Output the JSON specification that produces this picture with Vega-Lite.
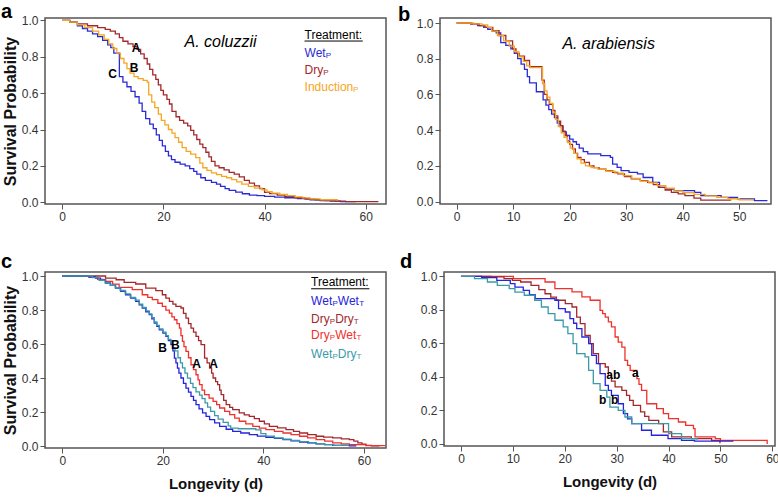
{
  "$schema": "https://vega.github.io/schema/vega-lite/v6.json",
  "background": "white",
  "padding": {"left": 0, "top": 1, "right": 0, "bottom": 0},
  "spacing": 28,
  "config": {
    "view": {"stroke": "#555", "strokeWidth": 1.5},
    "font": "Liberation Sans",
    "axis": {"grid": false, "domain": false, "ticks": true, "tickColor": "#555", "tickSize": 5, "tickWidth": 1, "labelFont": "Liberation Sans", "labelFontSize": 12, "labelColor": "#333", "labelPadding": 2, "labelFlush": false, "labelOverlap": false, "titleFont": "Liberation Sans", "titleFontWeight": "bold", "titleColor": "#111"},
    "axisX": {"titleFontSize": 15, "titlePadding": 10},
    "axisY": {"titleFontSize": 16, "titlePadding": 3},
    "title": {"font": "Liberation Sans", "fontSize": 20, "fontWeight": "bold", "color": "#000", "anchor": "start", "frame": "group", "baseline": "alphabetic"}
  },
  "datasets": {
    "curves": [
      {"p":"a","g":"Wet_P","t":0,"s":1},{"p":"a","g":"Wet_P","t":1.5,"s":0.99},{"p":"a","g":"Wet_P","t":3,"s":0.97},{"p":"a","g":"Wet_P","t":4,"s":0.955},{"p":"a","g":"Wet_P","t":5,"s":0.94},{"p":"a","g":"Wet_P","t":6,"s":0.925},{"p":"a","g":"Wet_P","t":7,"s":0.91},{"p":"a","g":"Wet_P","t":8,"s":0.89},{"p":"a","g":"Wet_P","t":9,"s":0.865},{"p":"a","g":"Wet_P","t":9.6,"s":0.85},{"p":"a","g":"Wet_P","t":10.2,"s":0.82},{"p":"a","g":"Wet_P","t":11.3,"s":0.69},{"p":"a","g":"Wet_P","t":12,"s":0.66},{"p":"a","g":"Wet_P","t":12.8,"s":0.635},{"p":"a","g":"Wet_P","t":13.6,"s":0.61},{"p":"a","g":"Wet_P","t":14.4,"s":0.58},{"p":"a","g":"Wet_P","t":15.2,"s":0.545},{"p":"a","g":"Wet_P","t":15.8,"s":0.5},{"p":"a","g":"Wet_P","t":16.5,"s":0.46},{"p":"a","g":"Wet_P","t":17.3,"s":0.43},{"p":"a","g":"Wet_P","t":18,"s":0.405},{"p":"a","g":"Wet_P","t":18.6,"s":0.37},{"p":"a","g":"Wet_P","t":19.2,"s":0.34},{"p":"a","g":"Wet_P","t":19.8,"s":0.31},{"p":"a","g":"Wet_P","t":20.4,"s":0.28},{"p":"a","g":"Wet_P","t":21,"s":0.255},{"p":"a","g":"Wet_P","t":21.6,"s":0.235},{"p":"a","g":"Wet_P","t":22.3,"s":0.22},{"p":"a","g":"Wet_P","t":23.3,"s":0.21},{"p":"a","g":"Wet_P","t":24.3,"s":0.2},{"p":"a","g":"Wet_P","t":25.2,"s":0.185},{"p":"a","g":"Wet_P","t":26,"s":0.17},{"p":"a","g":"Wet_P","t":26.6,"s":0.155},{"p":"a","g":"Wet_P","t":27.4,"s":0.135},{"p":"a","g":"Wet_P","t":28.3,"s":0.12},{"p":"a","g":"Wet_P","t":29.5,"s":0.11},{"p":"a","g":"Wet_P","t":30.5,"s":0.1},{"p":"a","g":"Wet_P","t":31.3,"s":0.088},{"p":"a","g":"Wet_P","t":32.2,"s":0.075},{"p":"a","g":"Wet_P","t":33,"s":0.066},{"p":"a","g":"Wet_P","t":34.3,"s":0.056},{"p":"a","g":"Wet_P","t":35.6,"s":0.047},{"p":"a","g":"Wet_P","t":37,"s":0.04},{"p":"a","g":"Wet_P","t":38.5,"s":0.037},{"p":"a","g":"Wet_P","t":40,"s":0.033},{"p":"a","g":"Wet_P","t":42,"s":0.028},{"p":"a","g":"Wet_P","t":44,"s":0.025},{"p":"a","g":"Wet_P","t":46.5,"s":0.02},{"p":"a","g":"Wet_P","t":49,"s":0.014},{"p":"a","g":"Wet_P","t":51,"s":0.009},{"p":"a","g":"Wet_P","t":53,"s":0.006},{"p":"a","g":"Wet_P","t":55,"s":0.004},{"p":"a","g":"Wet_P","t":58,"s":0.004},
      {"p":"a","g":"Dry_P","t":0,"s":1},{"p":"a","g":"Dry_P","t":1.5,"s":0.99},{"p":"a","g":"Dry_P","t":3,"s":0.98},{"p":"a","g":"Dry_P","t":5,"s":0.97},{"p":"a","g":"Dry_P","t":7,"s":0.96},{"p":"a","g":"Dry_P","t":8.5,"s":0.95},{"p":"a","g":"Dry_P","t":9.5,"s":0.94},{"p":"a","g":"Dry_P","t":10.5,"s":0.925},{"p":"a","g":"Dry_P","t":11.3,"s":0.905},{"p":"a","g":"Dry_P","t":12,"s":0.885},{"p":"a","g":"Dry_P","t":13,"s":0.87},{"p":"a","g":"Dry_P","t":14,"s":0.855},{"p":"a","g":"Dry_P","t":14.8,"s":0.84},{"p":"a","g":"Dry_P","t":15.5,"s":0.815},{"p":"a","g":"Dry_P","t":16.2,"s":0.79},{"p":"a","g":"Dry_P","t":16.8,"s":0.76},{"p":"a","g":"Dry_P","t":17.3,"s":0.73},{"p":"a","g":"Dry_P","t":17.9,"s":0.7},{"p":"a","g":"Dry_P","t":18.5,"s":0.675},{"p":"a","g":"Dry_P","t":19,"s":0.645},{"p":"a","g":"Dry_P","t":19.5,"s":0.615},{"p":"a","g":"Dry_P","t":20,"s":0.59},{"p":"a","g":"Dry_P","t":20.7,"s":0.565},{"p":"a","g":"Dry_P","t":21.2,"s":0.54},{"p":"a","g":"Dry_P","t":21.7,"s":0.5},{"p":"a","g":"Dry_P","t":22.5,"s":0.47},{"p":"a","g":"Dry_P","t":23.2,"s":0.45},{"p":"a","g":"Dry_P","t":24,"s":0.435},{"p":"a","g":"Dry_P","t":24.8,"s":0.42},{"p":"a","g":"Dry_P","t":25.4,"s":0.395},{"p":"a","g":"Dry_P","t":26,"s":0.37},{"p":"a","g":"Dry_P","t":26.6,"s":0.345},{"p":"a","g":"Dry_P","t":27.2,"s":0.32},{"p":"a","g":"Dry_P","t":27.8,"s":0.3},{"p":"a","g":"Dry_P","t":28.4,"s":0.275},{"p":"a","g":"Dry_P","t":29,"s":0.25},{"p":"a","g":"Dry_P","t":29.5,"s":0.225},{"p":"a","g":"Dry_P","t":30.2,"s":0.2},{"p":"a","g":"Dry_P","t":31,"s":0.19},{"p":"a","g":"Dry_P","t":32,"s":0.178},{"p":"a","g":"Dry_P","t":33,"s":0.165},{"p":"a","g":"Dry_P","t":34,"s":0.155},{"p":"a","g":"Dry_P","t":35,"s":0.14},{"p":"a","g":"Dry_P","t":36,"s":0.12},{"p":"a","g":"Dry_P","t":37,"s":0.105},{"p":"a","g":"Dry_P","t":38,"s":0.09},{"p":"a","g":"Dry_P","t":39,"s":0.075},{"p":"a","g":"Dry_P","t":40,"s":0.055},{"p":"a","g":"Dry_P","t":41,"s":0.048},{"p":"a","g":"Dry_P","t":42.5,"s":0.04},{"p":"a","g":"Dry_P","t":44,"s":0.033},{"p":"a","g":"Dry_P","t":46,"s":0.025},{"p":"a","g":"Dry_P","t":48,"s":0.018},{"p":"a","g":"Dry_P","t":50,"s":0.013},{"p":"a","g":"Dry_P","t":52,"s":0.009},{"p":"a","g":"Dry_P","t":54,"s":0.006},{"p":"a","g":"Dry_P","t":56,"s":0.004},{"p":"a","g":"Dry_P","t":62.5,"s":0.004},
      {"p":"a","g":"Induction_P","t":0,"s":1},{"p":"a","g":"Induction_P","t":1.5,"s":0.99},{"p":"a","g":"Induction_P","t":3,"s":0.975},{"p":"a","g":"Induction_P","t":4.5,"s":0.96},{"p":"a","g":"Induction_P","t":6,"s":0.94},{"p":"a","g":"Induction_P","t":7.2,"s":0.92},{"p":"a","g":"Induction_P","t":8.3,"s":0.895},{"p":"a","g":"Induction_P","t":9.2,"s":0.87},{"p":"a","g":"Induction_P","t":10,"s":0.845},{"p":"a","g":"Induction_P","t":10.8,"s":0.82},{"p":"a","g":"Induction_P","t":11.5,"s":0.79},{"p":"a","g":"Induction_P","t":12.2,"s":0.765},{"p":"a","g":"Induction_P","t":12.8,"s":0.735},{"p":"a","g":"Induction_P","t":13.4,"s":0.71},{"p":"a","g":"Induction_P","t":14.2,"s":0.69},{"p":"a","g":"Induction_P","t":15,"s":0.68},{"p":"a","g":"Induction_P","t":16,"s":0.67},{"p":"a","g":"Induction_P","t":16.8,"s":0.66},{"p":"a","g":"Induction_P","t":17.1,"s":0.59},{"p":"a","g":"Induction_P","t":17.7,"s":0.55},{"p":"a","g":"Induction_P","t":18.3,"s":0.52},{"p":"a","g":"Induction_P","t":19,"s":0.485},{"p":"a","g":"Induction_P","t":19.6,"s":0.45},{"p":"a","g":"Induction_P","t":20.3,"s":0.425},{"p":"a","g":"Induction_P","t":21,"s":0.4},{"p":"a","g":"Induction_P","t":21.7,"s":0.38},{"p":"a","g":"Induction_P","t":22.3,"s":0.355},{"p":"a","g":"Induction_P","t":23,"s":0.33},{"p":"a","g":"Induction_P","t":23.7,"s":0.3},{"p":"a","g":"Induction_P","t":24.5,"s":0.28},{"p":"a","g":"Induction_P","t":25.4,"s":0.265},{"p":"a","g":"Induction_P","t":26.4,"s":0.245},{"p":"a","g":"Induction_P","t":27.2,"s":0.215},{"p":"a","g":"Induction_P","t":27.8,"s":0.19},{"p":"a","g":"Induction_P","t":28.6,"s":0.175},{"p":"a","g":"Induction_P","t":29.5,"s":0.162},{"p":"a","g":"Induction_P","t":30.5,"s":0.152},{"p":"a","g":"Induction_P","t":31.5,"s":0.143},{"p":"a","g":"Induction_P","t":32.5,"s":0.135},{"p":"a","g":"Induction_P","t":33.5,"s":0.125},{"p":"a","g":"Induction_P","t":34.5,"s":0.112},{"p":"a","g":"Induction_P","t":35.5,"s":0.1},{"p":"a","g":"Induction_P","t":36.8,"s":0.088},{"p":"a","g":"Induction_P","t":38,"s":0.078},{"p":"a","g":"Induction_P","t":39.5,"s":0.068},{"p":"a","g":"Induction_P","t":40.5,"s":0.058},{"p":"a","g":"Induction_P","t":41.5,"s":0.05},{"p":"a","g":"Induction_P","t":43,"s":0.043},{"p":"a","g":"Induction_P","t":44.5,"s":0.037},{"p":"a","g":"Induction_P","t":46,"s":0.03},{"p":"a","g":"Induction_P","t":47.5,"s":0.024},{"p":"a","g":"Induction_P","t":49,"s":0.019},{"p":"a","g":"Induction_P","t":51,"s":0.014},{"p":"a","g":"Induction_P","t":54.4,"s":0.01},
      {"p":"b","g":"Wet_P","t":0,"s":1},{"p":"b","g":"Wet_P","t":2.5,"s":0.995},{"p":"b","g":"Wet_P","t":3.7,"s":0.985},{"p":"b","g":"Wet_P","t":4.8,"s":0.975},{"p":"b","g":"Wet_P","t":5.5,"s":0.965},{"p":"b","g":"Wet_P","t":6.3,"s":0.955},{"p":"b","g":"Wet_P","t":7,"s":0.945},{"p":"b","g":"Wet_P","t":7.8,"s":0.89},{"p":"b","g":"Wet_P","t":8.7,"s":0.875},{"p":"b","g":"Wet_P","t":9.6,"s":0.855},{"p":"b","g":"Wet_P","t":10.2,"s":0.83},{"p":"b","g":"Wet_P","t":10.8,"s":0.8},{"p":"b","g":"Wet_P","t":11.4,"s":0.77},{"p":"b","g":"Wet_P","t":12,"s":0.74},{"p":"b","g":"Wet_P","t":12.5,"s":0.7},{"p":"b","g":"Wet_P","t":12.9,"s":0.665},{"p":"b","g":"Wet_P","t":14.1,"s":0.615},{"p":"b","g":"Wet_P","t":15.3,"s":0.57},{"p":"b","g":"Wet_P","t":15.8,"s":0.54},{"p":"b","g":"Wet_P","t":16.3,"s":0.515},{"p":"b","g":"Wet_P","t":16.8,"s":0.49},{"p":"b","g":"Wet_P","t":17.3,"s":0.47},{"p":"b","g":"Wet_P","t":17.8,"s":0.44},{"p":"b","g":"Wet_P","t":18.3,"s":0.42},{"p":"b","g":"Wet_P","t":18.8,"s":0.39},{"p":"b","g":"Wet_P","t":19.4,"s":0.37},{"p":"b","g":"Wet_P","t":20,"s":0.35},{"p":"b","g":"Wet_P","t":20.6,"s":0.335},{"p":"b","g":"Wet_P","t":21.2,"s":0.32},{"p":"b","g":"Wet_P","t":21.7,"s":0.3},{"p":"b","g":"Wet_P","t":22.4,"s":0.28},{"p":"b","g":"Wet_P","t":23.2,"s":0.267},{"p":"b","g":"Wet_P","t":25.5,"s":0.258},{"p":"b","g":"Wet_P","t":27.2,"s":0.248},{"p":"b","g":"Wet_P","t":27.6,"s":0.21},{"p":"b","g":"Wet_P","t":28.4,"s":0.192},{"p":"b","g":"Wet_P","t":29.1,"s":0.173},{"p":"b","g":"Wet_P","t":30.5,"s":0.164},{"p":"b","g":"Wet_P","t":32,"s":0.155},{"p":"b","g":"Wet_P","t":33,"s":0.135},{"p":"b","g":"Wet_P","t":34.7,"s":0.108},{"p":"b","g":"Wet_P","t":35.9,"s":0.08},{"p":"b","g":"Wet_P","t":37,"s":0.07},{"p":"b","g":"Wet_P","t":38.5,"s":0.062},{"p":"b","g":"Wet_P","t":42.1,"s":0.052},{"p":"b","g":"Wet_P","t":43.2,"s":0.034},{"p":"b","g":"Wet_P","t":46.8,"s":0.024},{"p":"b","g":"Wet_P","t":49.7,"s":0.015},{"p":"b","g":"Wet_P","t":52.7,"s":0.006},{"p":"b","g":"Wet_P","t":55,"s":0.006},
      {"p":"b","g":"Dry_P","t":0,"s":1},{"p":"b","g":"Dry_P","t":2.5,"s":0.995},{"p":"b","g":"Dry_P","t":4,"s":0.985},{"p":"b","g":"Dry_P","t":5,"s":0.975},{"p":"b","g":"Dry_P","t":6.4,"s":0.957},{"p":"b","g":"Dry_P","t":7.5,"s":0.93},{"p":"b","g":"Dry_P","t":8.7,"s":0.9},{"p":"b","g":"Dry_P","t":9.9,"s":0.855},{"p":"b","g":"Dry_P","t":10.5,"s":0.83},{"p":"b","g":"Dry_P","t":11.1,"s":0.815},{"p":"b","g":"Dry_P","t":12,"s":0.79},{"p":"b","g":"Dry_P","t":12.9,"s":0.755},{"p":"b","g":"Dry_P","t":15.1,"s":0.68},{"p":"b","g":"Dry_P","t":15.5,"s":0.6},{"p":"b","g":"Dry_P","t":16,"s":0.57},{"p":"b","g":"Dry_P","t":16.4,"s":0.545},{"p":"b","g":"Dry_P","t":17,"s":0.51},{"p":"b","g":"Dry_P","t":17.4,"s":0.48},{"p":"b","g":"Dry_P","t":17.9,"s":0.45},{"p":"b","g":"Dry_P","t":18.4,"s":0.425},{"p":"b","g":"Dry_P","t":18.8,"s":0.395},{"p":"b","g":"Dry_P","t":19.2,"s":0.37},{"p":"b","g":"Dry_P","t":19.6,"s":0.34},{"p":"b","g":"Dry_P","t":20,"s":0.32},{"p":"b","g":"Dry_P","t":20.5,"s":0.295},{"p":"b","g":"Dry_P","t":21,"s":0.27},{"p":"b","g":"Dry_P","t":21.4,"s":0.248},{"p":"b","g":"Dry_P","t":22,"s":0.235},{"p":"b","g":"Dry_P","t":22.6,"s":0.22},{"p":"b","g":"Dry_P","t":23.5,"s":0.2},{"p":"b","g":"Dry_P","t":24.3,"s":0.19},{"p":"b","g":"Dry_P","t":25.2,"s":0.182},{"p":"b","g":"Dry_P","t":26.4,"s":0.173},{"p":"b","g":"Dry_P","t":27.6,"s":0.164},{"p":"b","g":"Dry_P","t":28.5,"s":0.155},{"p":"b","g":"Dry_P","t":29.7,"s":0.14},{"p":"b","g":"Dry_P","t":30.9,"s":0.127},{"p":"b","g":"Dry_P","t":32.5,"s":0.117},{"p":"b","g":"Dry_P","t":33.8,"s":0.108},{"p":"b","g":"Dry_P","t":34.8,"s":0.095},{"p":"b","g":"Dry_P","t":35.7,"s":0.08},{"p":"b","g":"Dry_P","t":36.9,"s":0.065},{"p":"b","g":"Dry_P","t":38,"s":0.052},{"p":"b","g":"Dry_P","t":39.2,"s":0.043},{"p":"b","g":"Dry_P","t":40.4,"s":0.034},{"p":"b","g":"Dry_P","t":42,"s":0.02},{"p":"b","g":"Dry_P","t":43.2,"s":0.008},{"p":"b","g":"Dry_P","t":48.5,"s":0.006},
      {"p":"b","g":"Induction_P","t":0,"s":1},{"p":"b","g":"Induction_P","t":3,"s":0.995},{"p":"b","g":"Induction_P","t":4.5,"s":0.99},{"p":"b","g":"Induction_P","t":5.5,"s":0.975},{"p":"b","g":"Induction_P","t":6.2,"s":0.955},{"p":"b","g":"Induction_P","t":7.2,"s":0.93},{"p":"b","g":"Induction_P","t":8.3,"s":0.9},{"p":"b","g":"Induction_P","t":9.3,"s":0.87},{"p":"b","g":"Induction_P","t":10.2,"s":0.84},{"p":"b","g":"Induction_P","t":11,"s":0.81},{"p":"b","g":"Induction_P","t":11.8,"s":0.785},{"p":"b","g":"Induction_P","t":12.4,"s":0.76},{"p":"b","g":"Induction_P","t":13,"s":0.75},{"p":"b","g":"Induction_P","t":14.8,"s":0.75},{"p":"b","g":"Induction_P","t":15.2,"s":0.66},{"p":"b","g":"Induction_P","t":15.6,"s":0.62},{"p":"b","g":"Induction_P","t":16,"s":0.585},{"p":"b","g":"Induction_P","t":16.5,"s":0.55},{"p":"b","g":"Induction_P","t":17,"s":0.5},{"p":"b","g":"Induction_P","t":17.5,"s":0.46},{"p":"b","g":"Induction_P","t":18,"s":0.42},{"p":"b","g":"Induction_P","t":18.5,"s":0.385},{"p":"b","g":"Induction_P","t":19,"s":0.36},{"p":"b","g":"Induction_P","t":19.6,"s":0.33},{"p":"b","g":"Induction_P","t":20.1,"s":0.3},{"p":"b","g":"Induction_P","t":20.7,"s":0.27},{"p":"b","g":"Induction_P","t":21.3,"s":0.24},{"p":"b","g":"Induction_P","t":22,"s":0.215},{"p":"b","g":"Induction_P","t":22.8,"s":0.2},{"p":"b","g":"Induction_P","t":23.8,"s":0.19},{"p":"b","g":"Induction_P","t":25,"s":0.18},{"p":"b","g":"Induction_P","t":26.5,"s":0.17},{"p":"b","g":"Induction_P","t":28,"s":0.16},{"p":"b","g":"Induction_P","t":29.5,"s":0.145},{"p":"b","g":"Induction_P","t":31,"s":0.13},{"p":"b","g":"Induction_P","t":32.5,"s":0.115},{"p":"b","g":"Induction_P","t":34,"s":0.105},{"p":"b","g":"Induction_P","t":35.5,"s":0.09},{"p":"b","g":"Induction_P","t":37,"s":0.075},{"p":"b","g":"Induction_P","t":38.5,"s":0.06},{"p":"b","g":"Induction_P","t":40,"s":0.05},{"p":"b","g":"Induction_P","t":42,"s":0.04},{"p":"b","g":"Induction_P","t":44,"s":0.032},{"p":"b","g":"Induction_P","t":46,"s":0.024},{"p":"b","g":"Induction_P","t":48,"s":0.016},{"p":"b","g":"Induction_P","t":50,"s":0.01},{"p":"b","g":"Induction_P","t":52.5,"s":0.005},
      {"p":"c","g":"DryDry","t":0,"s":1},{"p":"c","g":"DryDry","t":7.3,"s":1},{"p":"c","g":"DryDry","t":8.6,"s":0.988},{"p":"c","g":"DryDry","t":10.7,"s":0.978},{"p":"c","g":"DryDry","t":12.3,"s":0.962},{"p":"c","g":"DryDry","t":14.6,"s":0.953},{"p":"c","g":"DryDry","t":16.6,"s":0.929},{"p":"c","g":"DryDry","t":18.6,"s":0.914},{"p":"c","g":"DryDry","t":19.9,"s":0.89},{"p":"c","g":"DryDry","t":20.6,"s":0.87},{"p":"c","g":"DryDry","t":21.3,"s":0.851},{"p":"c","g":"DryDry","t":22,"s":0.835},{"p":"c","g":"DryDry","t":22.6,"s":0.822},{"p":"c","g":"DryDry","t":23.6,"s":0.812},{"p":"c","g":"DryDry","t":24.1,"s":0.78},{"p":"c","g":"DryDry","t":24.6,"s":0.753},{"p":"c","g":"DryDry","t":25.1,"s":0.72},{"p":"c","g":"DryDry","t":25.6,"s":0.694},{"p":"c","g":"DryDry","t":26.1,"s":0.67},{"p":"c","g":"DryDry","t":26.6,"s":0.645},{"p":"c","g":"DryDry","t":27.1,"s":0.62},{"p":"c","g":"DryDry","t":27.6,"s":0.597},{"p":"c","g":"DryDry","t":28.3,"s":0.518},{"p":"c","g":"DryDry","t":28.8,"s":0.49},{"p":"c","g":"DryDry","t":29.3,"s":0.459},{"p":"c","g":"DryDry","t":29.7,"s":0.43},{"p":"c","g":"DryDry","t":30,"s":0.401},{"p":"c","g":"DryDry","t":30.5,"s":0.38},{"p":"c","g":"DryDry","t":30.9,"s":0.362},{"p":"c","g":"DryDry","t":31.3,"s":0.33},{"p":"c","g":"DryDry","t":31.6,"s":0.303},{"p":"c","g":"DryDry","t":32.1,"s":0.27},{"p":"c","g":"DryDry","t":32.6,"s":0.245},{"p":"c","g":"DryDry","t":33.3,"s":0.228},{"p":"c","g":"DryDry","t":33.9,"s":0.215},{"p":"c","g":"DryDry","t":35.2,"s":0.196},{"p":"c","g":"DryDry","t":36.2,"s":0.185},{"p":"c","g":"DryDry","t":37.2,"s":0.176},{"p":"c","g":"DryDry","t":38.2,"s":0.162},{"p":"c","g":"DryDry","t":39.2,"s":0.147},{"p":"c","g":"DryDry","t":40.2,"s":0.132},{"p":"c","g":"DryDry","t":41.2,"s":0.117},{"p":"c","g":"DryDry","t":42.8,"s":0.108},{"p":"c","g":"DryDry","t":44.5,"s":0.098},{"p":"c","g":"DryDry","t":46,"s":0.088},{"p":"c","g":"DryDry","t":47.2,"s":0.078},{"p":"c","g":"DryDry","t":48.8,"s":0.068},{"p":"c","g":"DryDry","t":50.5,"s":0.059},{"p":"c","g":"DryDry","t":52,"s":0.054},{"p":"c","g":"DryDry","t":53.8,"s":0.049},{"p":"c","g":"DryDry","t":55.5,"s":0.044},{"p":"c","g":"DryDry","t":57.1,"s":0.039},{"p":"c","g":"DryDry","t":58,"s":0.03},{"p":"c","g":"DryDry","t":58.8,"s":0.02},{"p":"c","g":"DryDry","t":59.6,"s":0.012},{"p":"c","g":"DryDry","t":60.4,"s":0.006},{"p":"c","g":"DryDry","t":61.5,"s":0.003},{"p":"c","g":"DryDry","t":63.1,"s":0.003},
      {"p":"c","g":"DryWet","t":0,"s":1},{"p":"c","g":"DryWet","t":4,"s":1},{"p":"c","g":"DryWet","t":5.3,"s":0.992},{"p":"c","g":"DryWet","t":7,"s":0.98},{"p":"c","g":"DryWet","t":8.6,"s":0.969},{"p":"c","g":"DryWet","t":10,"s":0.952},{"p":"c","g":"DryWet","t":11.3,"s":0.933},{"p":"c","g":"DryWet","t":13.9,"s":0.92},{"p":"c","g":"DryWet","t":15.9,"s":0.89},{"p":"c","g":"DryWet","t":17,"s":0.875},{"p":"c","g":"DryWet","t":17.9,"s":0.861},{"p":"c","g":"DryWet","t":19,"s":0.84},{"p":"c","g":"DryWet","t":19.9,"s":0.822},{"p":"c","g":"DryWet","t":20.6,"s":0.8},{"p":"c","g":"DryWet","t":21.3,"s":0.782},{"p":"c","g":"DryWet","t":21.8,"s":0.76},{"p":"c","g":"DryWet","t":22.3,"s":0.743},{"p":"c","g":"DryWet","t":22.8,"s":0.72},{"p":"c","g":"DryWet","t":23.3,"s":0.694},{"p":"c","g":"DryWet","t":23.6,"s":0.65},{"p":"c","g":"DryWet","t":23.9,"s":0.616},{"p":"c","g":"DryWet","t":24.2,"s":0.585},{"p":"c","g":"DryWet","t":24.6,"s":0.557},{"p":"c","g":"DryWet","t":25.1,"s":0.52},{"p":"c","g":"DryWet","t":25.6,"s":0.479},{"p":"c","g":"DryWet","t":26.1,"s":0.45},{"p":"c","g":"DryWet","t":26.6,"s":0.42},{"p":"c","g":"DryWet","t":27,"s":0.39},{"p":"c","g":"DryWet","t":27.3,"s":0.362},{"p":"c","g":"DryWet","t":27.8,"s":0.33},{"p":"c","g":"DryWet","t":28.3,"s":0.303},{"p":"c","g":"DryWet","t":29.2,"s":0.283},{"p":"c","g":"DryWet","t":30,"s":0.264},{"p":"c","g":"DryWet","t":30.7,"s":0.245},{"p":"c","g":"DryWet","t":31.3,"s":0.225},{"p":"c","g":"DryWet","t":32.3,"s":0.205},{"p":"c","g":"DryWet","t":33.3,"s":0.186},{"p":"c","g":"DryWet","t":34.3,"s":0.166},{"p":"c","g":"DryWet","t":35.2,"s":0.147},{"p":"c","g":"DryWet","t":36.5,"s":0.132},{"p":"c","g":"DryWet","t":37.9,"s":0.117},{"p":"c","g":"DryWet","t":39.2,"s":0.107},{"p":"c","g":"DryWet","t":40.5,"s":0.098},{"p":"c","g":"DryWet","t":42.2,"s":0.088},{"p":"c","g":"DryWet","t":43.9,"s":0.078},{"p":"c","g":"DryWet","t":45.5,"s":0.068},{"p":"c","g":"DryWet","t":47.2,"s":0.059},{"p":"c","g":"DryWet","t":48.8,"s":0.049},{"p":"c","g":"DryWet","t":50.5,"s":0.039},{"p":"c","g":"DryWet","t":52.2,"s":0.03},{"p":"c","g":"DryWet","t":53.8,"s":0.02},{"p":"c","g":"DryWet","t":55.5,"s":0.014},{"p":"c","g":"DryWet","t":57.1,"s":0.01},{"p":"c","g":"DryWet","t":60.4,"s":0.004},{"p":"c","g":"DryWet","t":64.3,"s":0.004},
      {"p":"c","g":"WetWet","t":0,"s":1},{"p":"c","g":"WetWet","t":4,"s":1},{"p":"c","g":"WetWet","t":5.3,"s":0.995},{"p":"c","g":"WetWet","t":6.6,"s":0.988},{"p":"c","g":"WetWet","t":7.6,"s":0.975},{"p":"c","g":"WetWet","t":8.6,"s":0.959},{"p":"c","g":"WetWet","t":9.6,"s":0.945},{"p":"c","g":"WetWet","t":10.6,"s":0.929},{"p":"c","g":"WetWet","t":11.6,"s":0.91},{"p":"c","g":"WetWet","t":12.6,"s":0.89},{"p":"c","g":"WetWet","t":13.6,"s":0.87},{"p":"c","g":"WetWet","t":14.6,"s":0.851},{"p":"c","g":"WetWet","t":15.3,"s":0.83},{"p":"c","g":"WetWet","t":15.9,"s":0.812},{"p":"c","g":"WetWet","t":16.6,"s":0.79},{"p":"c","g":"WetWet","t":17.3,"s":0.773},{"p":"c","g":"WetWet","t":17.8,"s":0.748},{"p":"c","g":"WetWet","t":18.3,"s":0.724},{"p":"c","g":"WetWet","t":18.8,"s":0.704},{"p":"c","g":"WetWet","t":19.3,"s":0.684},{"p":"c","g":"WetWet","t":20,"s":0.665},{"p":"c","g":"WetWet","t":20.6,"s":0.645},{"p":"c","g":"WetWet","t":21.1,"s":0.62},{"p":"c","g":"WetWet","t":21.6,"s":0.597},{"p":"c","g":"WetWet","t":22,"s":0.56},{"p":"c","g":"WetWet","t":22.3,"s":0.518},{"p":"c","g":"WetWet","t":22.6,"s":0.49},{"p":"c","g":"WetWet","t":22.9,"s":0.459},{"p":"c","g":"WetWet","t":23.2,"s":0.43},{"p":"c","g":"WetWet","t":23.6,"s":0.401},{"p":"c","g":"WetWet","t":24.1,"s":0.37},{"p":"c","g":"WetWet","t":24.6,"s":0.342},{"p":"c","g":"WetWet","t":25.1,"s":0.318},{"p":"c","g":"WetWet","t":25.6,"s":0.293},{"p":"c","g":"WetWet","t":26.1,"s":0.27},{"p":"c","g":"WetWet","t":26.6,"s":0.245},{"p":"c","g":"WetWet","t":27.2,"s":0.22},{"p":"c","g":"WetWet","t":27.9,"s":0.196},{"p":"c","g":"WetWet","t":28.6,"s":0.176},{"p":"c","g":"WetWet","t":29.3,"s":0.157},{"p":"c","g":"WetWet","t":30.3,"s":0.137},{"p":"c","g":"WetWet","t":31.3,"s":0.117},{"p":"c","g":"WetWet","t":32.6,"s":0.1},{"p":"c","g":"WetWet","t":33.9,"s":0.088},{"p":"c","g":"WetWet","t":35.5,"s":0.078},{"p":"c","g":"WetWet","t":37.2,"s":0.068},{"p":"c","g":"WetWet","t":38.8,"s":0.06},{"p":"c","g":"WetWet","t":40.5,"s":0.053},{"p":"c","g":"WetWet","t":42.2,"s":0.046},{"p":"c","g":"WetWet","t":43.9,"s":0.039},{"p":"c","g":"WetWet","t":45.5,"s":0.032},{"p":"c","g":"WetWet","t":47.2,"s":0.025},{"p":"c","g":"WetWet","t":48.8,"s":0.02},{"p":"c","g":"WetWet","t":50.5,"s":0.014},{"p":"c","g":"WetWet","t":52.2,"s":0.01},{"p":"c","g":"WetWet","t":53.8,"s":0.006},{"p":"c","g":"WetWet","t":57.1,"s":0.002},{"p":"c","g":"WetWet","t":58.5,"s":0.002},
      {"p":"c","g":"WetDry","t":0,"s":1},{"p":"c","g":"WetDry","t":4.5,"s":1},{"p":"c","g":"WetDry","t":6,"s":0.99},{"p":"c","g":"WetDry","t":7.3,"s":0.975},{"p":"c","g":"WetDry","t":8.5,"s":0.96},{"p":"c","g":"WetDry","t":9.5,"s":0.945},{"p":"c","g":"WetDry","t":10.5,"s":0.93},{"p":"c","g":"WetDry","t":11.5,"s":0.915},{"p":"c","g":"WetDry","t":12.5,"s":0.895},{"p":"c","g":"WetDry","t":13.5,"s":0.875},{"p":"c","g":"WetDry","t":14.5,"s":0.858},{"p":"c","g":"WetDry","t":15.3,"s":0.835},{"p":"c","g":"WetDry","t":16,"s":0.815},{"p":"c","g":"WetDry","t":16.7,"s":0.795},{"p":"c","g":"WetDry","t":17.3,"s":0.778},{"p":"c","g":"WetDry","t":17.8,"s":0.755},{"p":"c","g":"WetDry","t":18.3,"s":0.73},{"p":"c","g":"WetDry","t":18.8,"s":0.71},{"p":"c","g":"WetDry","t":19.3,"s":0.69},{"p":"c","g":"WetDry","t":20,"s":0.67},{"p":"c","g":"WetDry","t":20.6,"s":0.65},{"p":"c","g":"WetDry","t":21.1,"s":0.628},{"p":"c","g":"WetDry","t":21.6,"s":0.605},{"p":"c","g":"WetDry","t":22,"s":0.58},{"p":"c","g":"WetDry","t":22.4,"s":0.56},{"p":"c","g":"WetDry","t":23,"s":0.52},{"p":"c","g":"WetDry","t":23.5,"s":0.49},{"p":"c","g":"WetDry","t":23.9,"s":0.46},{"p":"c","g":"WetDry","t":24.4,"s":0.43},{"p":"c","g":"WetDry","t":24.9,"s":0.4},{"p":"c","g":"WetDry","t":25.5,"s":0.37},{"p":"c","g":"WetDry","t":26,"s":0.345},{"p":"c","g":"WetDry","t":26.6,"s":0.32},{"p":"c","g":"WetDry","t":27.3,"s":0.3},{"p":"c","g":"WetDry","t":27.8,"s":0.28},{"p":"c","g":"WetDry","t":28.4,"s":0.255},{"p":"c","g":"WetDry","t":28.9,"s":0.23},{"p":"c","g":"WetDry","t":29.5,"s":0.205},{"p":"c","g":"WetDry","t":30.3,"s":0.18},{"p":"c","g":"WetDry","t":31,"s":0.16},{"p":"c","g":"WetDry","t":32,"s":0.14},{"p":"c","g":"WetDry","t":33,"s":0.12},{"p":"c","g":"WetDry","t":33.5,"s":0.107},{"p":"c","g":"WetDry","t":35,"s":0.103},{"p":"c","g":"WetDry","t":38.5,"s":0.097},{"p":"c","g":"WetDry","t":39.5,"s":0.075},{"p":"c","g":"WetDry","t":40.5,"s":0.06},{"p":"c","g":"WetDry","t":42.2,"s":0.05},{"p":"c","g":"WetDry","t":43.9,"s":0.042},{"p":"c","g":"WetDry","t":45.5,"s":0.035},{"p":"c","g":"WetDry","t":47.2,"s":0.028},{"p":"c","g":"WetDry","t":49,"s":0.02},{"p":"c","g":"WetDry","t":50.5,"s":0.015},{"p":"c","g":"WetDry","t":52.2,"s":0.01},{"p":"c","g":"WetDry","t":54,"s":0.006},{"p":"c","g":"WetDry","t":57,"s":0.003},
      {"p":"d","g":"DryWet","t":0,"s":1},{"p":"d","g":"DryWet","t":7.8,"s":1},{"p":"d","g":"DryWet","t":10.1,"s":0.986},{"p":"d","g":"DryWet","t":16.2,"s":0.966},{"p":"d","g":"DryWet","t":18.1,"s":0.926},{"p":"d","g":"DryWet","t":21.4,"s":0.907},{"p":"d","g":"DryWet","t":23.3,"s":0.877},{"p":"d","g":"DryWet","t":24.9,"s":0.857},{"p":"d","g":"DryWet","t":26.8,"s":0.797},{"p":"d","g":"DryWet","t":27.3,"s":0.777},{"p":"d","g":"DryWet","t":27.8,"s":0.757},{"p":"d","g":"DryWet","t":28.4,"s":0.728},{"p":"d","g":"DryWet","t":29,"s":0.698},{"p":"d","g":"DryWet","t":29.7,"s":0.638},{"p":"d","g":"DryWet","t":30.3,"s":0.608},{"p":"d","g":"DryWet","t":31,"s":0.578},{"p":"d","g":"DryWet","t":31.6,"s":0.499},{"p":"d","g":"DryWet","t":32.1,"s":0.469},{"p":"d","g":"DryWet","t":32.6,"s":0.439},{"p":"d","g":"DryWet","t":33.9,"s":0.39},{"p":"d","g":"DryWet","t":34.3,"s":0.355},{"p":"d","g":"DryWet","t":34.8,"s":0.32},{"p":"d","g":"DryWet","t":35.8,"s":0.24},{"p":"d","g":"DryWet","t":37.7,"s":0.211},{"p":"d","g":"DryWet","t":39,"s":0.181},{"p":"d","g":"DryWet","t":40,"s":0.151},{"p":"d","g":"DryWet","t":41.9,"s":0.131},{"p":"d","g":"DryWet","t":43.3,"s":0.111},{"p":"d","g":"DryWet","t":44.8,"s":0.092},{"p":"d","g":"DryWet","t":45.1,"s":0.042},{"p":"d","g":"DryWet","t":49,"s":0.032},{"p":"d","g":"DryWet","t":50,"s":0.022},{"p":"d","g":"DryWet","t":58.9,"s":0.022},{"p":"d","g":"DryWet","t":59,"s":0},
      {"p":"d","g":"DryDry","t":0,"s":1},{"p":"d","g":"DryDry","t":5.8,"s":0.996},{"p":"d","g":"DryDry","t":8.3,"s":0.986},{"p":"d","g":"DryDry","t":9.9,"s":0.976},{"p":"d","g":"DryDry","t":11.5,"s":0.966},{"p":"d","g":"DryDry","t":13.5,"s":0.946},{"p":"d","g":"DryDry","t":15,"s":0.92},{"p":"d","g":"DryDry","t":16.2,"s":0.896},{"p":"d","g":"DryDry","t":17.3,"s":0.876},{"p":"d","g":"DryDry","t":18.4,"s":0.857},{"p":"d","g":"DryDry","t":20.1,"s":0.837},{"p":"d","g":"DryDry","t":21.4,"s":0.817},{"p":"d","g":"DryDry","t":22.3,"s":0.757},{"p":"d","g":"DryDry","t":23,"s":0.718},{"p":"d","g":"DryDry","t":23.9,"s":0.648},{"p":"d","g":"DryDry","t":24.9,"s":0.598},{"p":"d","g":"DryDry","t":25.5,"s":0.539},{"p":"d","g":"DryDry","t":26.5,"s":0.479},{"p":"d","g":"DryDry","t":27.8,"s":0.459},{"p":"d","g":"DryDry","t":28.4,"s":0.409},{"p":"d","g":"DryDry","t":29,"s":0.375},{"p":"d","g":"DryDry","t":29.7,"s":0.34},{"p":"d","g":"DryDry","t":31,"s":0.32},{"p":"d","g":"DryDry","t":31.9,"s":0.29},{"p":"d","g":"DryDry","t":32.5,"s":0.26},{"p":"d","g":"DryDry","t":33.2,"s":0.23},{"p":"d","g":"DryDry","t":34.6,"s":0.191},{"p":"d","g":"DryDry","t":35.4,"s":0.165},{"p":"d","g":"DryDry","t":36.2,"s":0.141},{"p":"d","g":"DryDry","t":38.1,"s":0.121},{"p":"d","g":"DryDry","t":39,"s":0.072},{"p":"d","g":"DryDry","t":40.6,"s":0.042},{"p":"d","g":"DryDry","t":44.4,"s":0.032},{"p":"d","g":"DryDry","t":48.3,"s":0.022},{"p":"d","g":"DryDry","t":49.9,"s":0.004},
      {"p":"d","g":"WetWet","t":0,"s":1},{"p":"d","g":"WetWet","t":4,"s":0.992},{"p":"d","g":"WetWet","t":6.9,"s":0.976},{"p":"d","g":"WetWet","t":9.5,"s":0.956},{"p":"d","g":"WetWet","t":10.4,"s":0.936},{"p":"d","g":"WetWet","t":12,"s":0.916},{"p":"d","g":"WetWet","t":13.2,"s":0.89},{"p":"d","g":"WetWet","t":14.3,"s":0.867},{"p":"d","g":"WetWet","t":18.1,"s":0.857},{"p":"d","g":"WetWet","t":18.8,"s":0.807},{"p":"d","g":"WetWet","t":20.1,"s":0.787},{"p":"d","g":"WetWet","t":21,"s":0.747},{"p":"d","g":"WetWet","t":21.7,"s":0.72},{"p":"d","g":"WetWet","t":22.3,"s":0.688},{"p":"d","g":"WetWet","t":23.3,"s":0.638},{"p":"d","g":"WetWet","t":24.6,"s":0.598},{"p":"d","g":"WetWet","t":25.2,"s":0.529},{"p":"d","g":"WetWet","t":26.1,"s":0.479},{"p":"d","g":"WetWet","t":26.8,"s":0.419},{"p":"d","g":"WetWet","t":27.8,"s":0.35},{"p":"d","g":"WetWet","t":28.4,"s":0.32},{"p":"d","g":"WetWet","t":29,"s":0.29},{"p":"d","g":"WetWet","t":30.3,"s":0.24},{"p":"d","g":"WetWet","t":31.3,"s":0.181},{"p":"d","g":"WetWet","t":32.1,"s":0.15},{"p":"d","g":"WetWet","t":32.9,"s":0.121},{"p":"d","g":"WetWet","t":34.8,"s":0.082},{"p":"d","g":"WetWet","t":36.7,"s":0.052},{"p":"d","g":"WetWet","t":39.9,"s":0.032},{"p":"d","g":"WetWet","t":42.5,"s":0.022},{"p":"d","g":"WetWet","t":45,"s":0.017},{"p":"d","g":"WetWet","t":52.5,"s":0.017},
      {"p":"d","g":"WetDry","t":0,"s":1},{"p":"d","g":"WetDry","t":2.6,"s":0.986},{"p":"d","g":"WetDry","t":5.1,"s":0.966},{"p":"d","g":"WetDry","t":7,"s":0.946},{"p":"d","g":"WetDry","t":9.3,"s":0.926},{"p":"d","g":"WetDry","t":10.4,"s":0.906},{"p":"d","g":"WetDry","t":12.2,"s":0.887},{"p":"d","g":"WetDry","t":14.2,"s":0.857},{"p":"d","g":"WetDry","t":15.5,"s":0.817},{"p":"d","g":"WetDry","t":16.8,"s":0.777},{"p":"d","g":"WetDry","t":18.1,"s":0.738},{"p":"d","g":"WetDry","t":19.7,"s":0.698},{"p":"d","g":"WetDry","t":20.6,"s":0.658},{"p":"d","g":"WetDry","t":21.6,"s":0.598},{"p":"d","g":"WetDry","t":22.3,"s":0.539},{"p":"d","g":"WetDry","t":23.9,"s":0.519},{"p":"d","g":"WetDry","t":24.6,"s":0.439},{"p":"d","g":"WetDry","t":25.5,"s":0.36},{"p":"d","g":"WetDry","t":26.8,"s":0.32},{"p":"d","g":"WetDry","t":28.1,"s":0.28},{"p":"d","g":"WetDry","t":28.7,"s":0.22},{"p":"d","g":"WetDry","t":30.3,"s":0.201},{"p":"d","g":"WetDry","t":31.6,"s":0.161},{"p":"d","g":"WetDry","t":32.9,"s":0.121},{"p":"d","g":"WetDry","t":38.7,"s":0.121},{"p":"d","g":"WetDry","t":40,"s":0.062},{"p":"d","g":"WetDry","t":42.5,"s":0.032},{"p":"d","g":"WetDry","t":45.5,"s":0.026}
    ],
    "notes": [
      {"p":"a","k":"letter","t":14.6,"s":0.848,"text":"A"},
      {"p":"a","k":"letter","t":14.2,"s":0.736,"text":"B"},
      {"p":"a","k":"letter","t":9.96,"s":0.705,"text":"C"},
      {"p":"a","k":"species","t":31.3,"s":0.882,"text":"A. coluzzii"},
      {"p":"a","k":"head","t":47.9,"s":0.919,"text":"Treatment:"},
      {"p":"a","k":"item","g":"Wet_P","t":47.9,"s":0.823,"text":"Wet"},
      {"p":"a","k":"sub","g":"Wet_P","t":52.1,"s":0.823,"text":"P"},
      {"p":"a","k":"item","g":"Dry_P","t":47.9,"s":0.727,"text":"Dry"},
      {"p":"a","k":"sub","g":"Dry_P","t":51.6,"s":0.727,"text":"P"},
      {"p":"a","k":"item","g":"Induction_P","t":47.9,"s":0.631,"text":"Induction"},
      {"p":"a","k":"sub","g":"Induction_P","t":57.5,"s":0.631,"text":"P"},
      {"p":"b","k":"species","t":26.9,"s":0.882,"text":"A. arabiensis"},
      {"p":"c","k":"letter","t":19.93,"s":0.577,"text":"B"},
      {"p":"c","k":"letter","t":22.46,"s":0.597,"text":"B"},
      {"p":"c","k":"letter","t":26.7,"s":0.483,"text":"A"},
      {"p":"c","k":"letter","t":30.1,"s":0.483,"text":"A"},
      {"p":"c","k":"head","t":49.5,"s":0.965,"text":"Treatment:"},
      {"p":"c","k":"item","g":"WetWet","t":49.5,"s":0.851,"text":"Wet"},
      {"p":"c","k":"sub","g":"WetWet","t":53.75,"s":0.851,"text":"P"},
      {"p":"c","k":"item","g":"WetWet","t":54.81,"s":0.851,"text":"Wet"},
      {"p":"c","k":"sub","g":"WetWet","t":59.06,"s":0.851,"text":"T"},
      {"p":"c","k":"item","g":"DryDry","t":49.5,"s":0.749,"text":"Dry"},
      {"p":"c","k":"sub","g":"DryDry","t":53.22,"s":0.749,"text":"P"},
      {"p":"c","k":"item","g":"DryDry","t":54.28,"s":0.749,"text":"Dry"},
      {"p":"c","k":"sub","g":"DryDry","t":58.0,"s":0.749,"text":"T"},
      {"p":"c","k":"item","g":"DryWet","t":49.5,"s":0.652,"text":"Dry"},
      {"p":"c","k":"sub","g":"DryWet","t":53.22,"s":0.652,"text":"P"},
      {"p":"c","k":"item","g":"DryWet","t":54.28,"s":0.652,"text":"Wet"},
      {"p":"c","k":"sub","g":"DryWet","t":58.53,"s":0.652,"text":"T"},
      {"p":"c","k":"item","g":"WetDry","t":49.5,"s":0.544,"text":"Wet"},
      {"p":"c","k":"sub","g":"WetDry","t":53.75,"s":0.544,"text":"P"},
      {"p":"c","k":"item","g":"WetDry","t":54.81,"s":0.544,"text":"Dry"},
      {"p":"c","k":"sub","g":"WetDry","t":58.53,"s":0.544,"text":"T"},
      {"p":"d","k":"letter","t":29.36,"s":0.41,"text":"ab"},
      {"p":"d","k":"letter","t":33.6,"s":0.421,"text":"a"},
      {"p":"d","k":"letter","t":27.3,"s":0.26,"text":"b"},
      {"p":"d","k":"letter","t":29.6,"s":0.26,"text":"b"}
    ],
    "underlines": [
      {"p":"a","t":47.9,"t2":59.4,"s":0.886},
      {"p":"c","t":49.5,"t2":61.1,"s":0.925}
    ]
  },
  "vconcat": [
    {
      "spacing": 10,
      "hconcat": [
        {
          "width": 341, "height": 186,
          "title": {"text": "a", "dx": -44, "offset": -8},
          "encoding": {
            "x": {"field": "t", "type": "quantitative", "scale": {"domain": [-3.4, 64], "nice": false, "zero": false}, "axis": {"values": [0, 20, 40, 60], "title": null}},
            "y": {"field": "s", "type": "quantitative", "scale": {"domain": [-0.0093, 1.0126], "nice": false, "zero": false}, "axis": {"values": [0, 0.2, 0.4, 0.6, 0.8, 1], "format": ".1f", "title": "Survival Probability"}}
          },
          "layer": [
            {"data": {"name": "curves"}, "transform": [{"filter": "datum.p == 'a'"}], "mark": {"type": "line", "interpolate": "step-after", "strokeWidth": 1.3},
             "encoding": {"color": {"field": "g", "type": "nominal", "legend": null, "scale": {"domain": ["Wet_P", "Dry_P", "Induction_P", "WetWet", "DryDry", "DryWet", "WetDry"], "range": ["#2b2bd6", "#a3282c", "#f5a623", "#2424dc", "#a3282c", "#f0302c", "#3a9aa8"]}}}},
            {"data": {"name": "notes"}, "transform": [{"filter": "datum.p == 'a' && datum.k == 'letter'"}], "mark": {"type": "text", "font": "Liberation Sans", "fontSize": 12, "fontWeight": "bold", "color": "#000", "align": "center", "baseline": "middle"}, "encoding": {"text": {"field": "text"}}},
            {"data": {"name": "notes"}, "transform": [{"filter": "datum.p == 'a' && datum.k == 'species'"}], "mark": {"type": "text", "font": "Liberation Sans", "fontSize": 16, "fontStyle": "italic", "color": "#000", "align": "center", "baseline": "middle"}, "encoding": {"text": {"field": "text"}}},
            {"data": {"name": "notes"}, "transform": [{"filter": "datum.p == 'a' && datum.k == 'head'"}], "mark": {"type": "text", "font": "Liberation Sans", "fontSize": 12, "color": "#000", "align": "left", "baseline": "middle"}, "encoding": {"text": {"field": "text"}}},
            {"data": {"name": "notes"}, "transform": [{"filter": "datum.p == 'a' && datum.k == 'item'"}], "mark": {"type": "text", "font": "Liberation Sans", "fontSize": 12, "align": "left", "baseline": "middle"}, "encoding": {"text": {"field": "text"}, "color": {"field": "g", "type": "nominal", "legend": null}}},
            {"data": {"name": "notes"}, "transform": [{"filter": "datum.p == 'a' && datum.k == 'sub'"}], "mark": {"type": "text", "font": "Liberation Sans", "fontSize": 8, "dy": 3, "align": "left", "baseline": "middle"}, "encoding": {"text": {"field": "text"}, "color": {"field": "g", "type": "nominal", "legend": null}}},
            {"data": {"name": "underlines"}, "transform": [{"filter": "datum.p == 'a'"}], "mark": {"type": "rule", "color": "#000", "strokeWidth": 1}, "encoding": {"x2": {"field": "t2"}}}
          ]
        },
        {
          "width": 331, "height": 186,
          "title": {"text": "b", "dx": -42, "offset": -8},
          "encoding": {
            "x": {"field": "t", "type": "quantitative", "scale": {"domain": [-2.95, 55.63], "nice": false, "zero": false}, "axis": {"values": [0, 10, 20, 30, 40, 50], "title": null}},
            "y": {"field": "s", "type": "quantitative", "scale": {"domain": [-0.0134, 1.028], "nice": false, "zero": false}, "axis": {"values": [0, 0.2, 0.4, 0.6, 0.8, 1], "format": ".1f", "title": null}}
          },
          "layer": [
            {"data": {"name": "curves"}, "transform": [{"filter": "datum.p == 'b'"}], "mark": {"type": "line", "interpolate": "step-after", "strokeWidth": 1.3},
             "encoding": {"color": {"field": "g", "type": "nominal", "legend": null}}},
            {"data": {"name": "notes"}, "transform": [{"filter": "datum.p == 'b' && datum.k == 'species'"}], "mark": {"type": "text", "font": "Liberation Sans", "fontSize": 16, "fontStyle": "italic", "color": "#000", "align": "center", "baseline": "middle"}, "encoding": {"text": {"field": "text"}}}
          ]
        }
      ]
    },
    {
      "spacing": 10,
      "hconcat": [
        {
          "width": 341, "height": 176,
          "title": {"text": "c", "dx": -44, "offset": -2},
          "encoding": {
            "x": {"field": "t", "type": "quantitative", "scale": {"domain": [-3.45, 64.4], "nice": false, "zero": false}, "axis": {"values": [0, 20, 40, 60], "title": "Longevity (d)"}},
            "y": {"field": "s", "type": "quantitative", "scale": {"domain": [-0.01, 1.0235], "nice": false, "zero": false}, "axis": {"values": [0, 0.2, 0.4, 0.6, 0.8, 1], "format": ".1f", "title": "Survival Probability"}}
          },
          "layer": [
            {"data": {"name": "curves"}, "transform": [{"filter": "datum.p == 'c'"}], "mark": {"type": "line", "interpolate": "step-after", "strokeWidth": 1.3},
             "encoding": {"color": {"field": "g", "type": "nominal", "legend": null}}},
            {"data": {"name": "notes"}, "transform": [{"filter": "datum.p == 'c' && datum.k == 'letter'"}], "mark": {"type": "text", "font": "Liberation Sans", "fontSize": 12, "fontWeight": "bold", "color": "#000", "align": "center", "baseline": "middle"}, "encoding": {"text": {"field": "text"}}},
            {"data": {"name": "notes"}, "transform": [{"filter": "datum.p == 'c' && datum.k == 'head'"}], "mark": {"type": "text", "font": "Liberation Sans", "fontSize": 12, "color": "#000", "align": "left", "baseline": "middle"}, "encoding": {"text": {"field": "text"}}},
            {"data": {"name": "notes"}, "transform": [{"filter": "datum.p == 'c' && datum.k == 'item'"}], "mark": {"type": "text", "font": "Liberation Sans", "fontSize": 12, "align": "left", "baseline": "middle"}, "encoding": {"text": {"field": "text"}, "color": {"field": "g", "type": "nominal", "legend": null}}},
            {"data": {"name": "notes"}, "transform": [{"filter": "datum.p == 'c' && datum.k == 'sub'"}], "mark": {"type": "text", "font": "Liberation Sans", "fontSize": 8, "dy": 3, "align": "left", "baseline": "middle"}, "encoding": {"text": {"field": "text"}, "color": {"field": "g", "type": "nominal", "legend": null}}},
            {"data": {"name": "underlines"}, "transform": [{"filter": "datum.p == 'c'"}], "mark": {"type": "rule", "color": "#000", "strokeWidth": 1}, "encoding": {"x2": {"field": "t2"}}}
          ]
        },
        {
          "width": 331, "height": 174,
          "title": {"text": "d", "dx": -44, "offset": -2},
          "encoding": {
            "x": {"field": "t", "type": "quantitative", "scale": {"domain": [-3.27, 60.51], "nice": false, "zero": false}, "axis": {"values": [0, 10, 20, 30, 40, 50, 60], "title": "Longevity (d)"}},
            "y": {"field": "s", "type": "quantitative", "scale": {"domain": [-0.012, 1.0256], "nice": false, "zero": false}, "axis": {"values": [0, 0.2, 0.4, 0.6, 0.8, 1], "format": ".1f", "title": null}}
          },
          "layer": [
            {"data": {"name": "curves"}, "transform": [{"filter": "datum.p == 'd'"}], "mark": {"type": "line", "interpolate": "step-after", "strokeWidth": 1.3},
             "encoding": {"color": {"field": "g", "type": "nominal", "legend": null}}},
            {"data": {"name": "notes"}, "transform": [{"filter": "datum.p == 'd' && datum.k == 'letter'"}], "mark": {"type": "text", "font": "Liberation Sans", "fontSize": 12, "fontWeight": "bold", "color": "#000", "align": "center", "baseline": "middle"}, "encoding": {"text": {"field": "text"}}}
          ]
        }
      ]
    }
  ]
}
